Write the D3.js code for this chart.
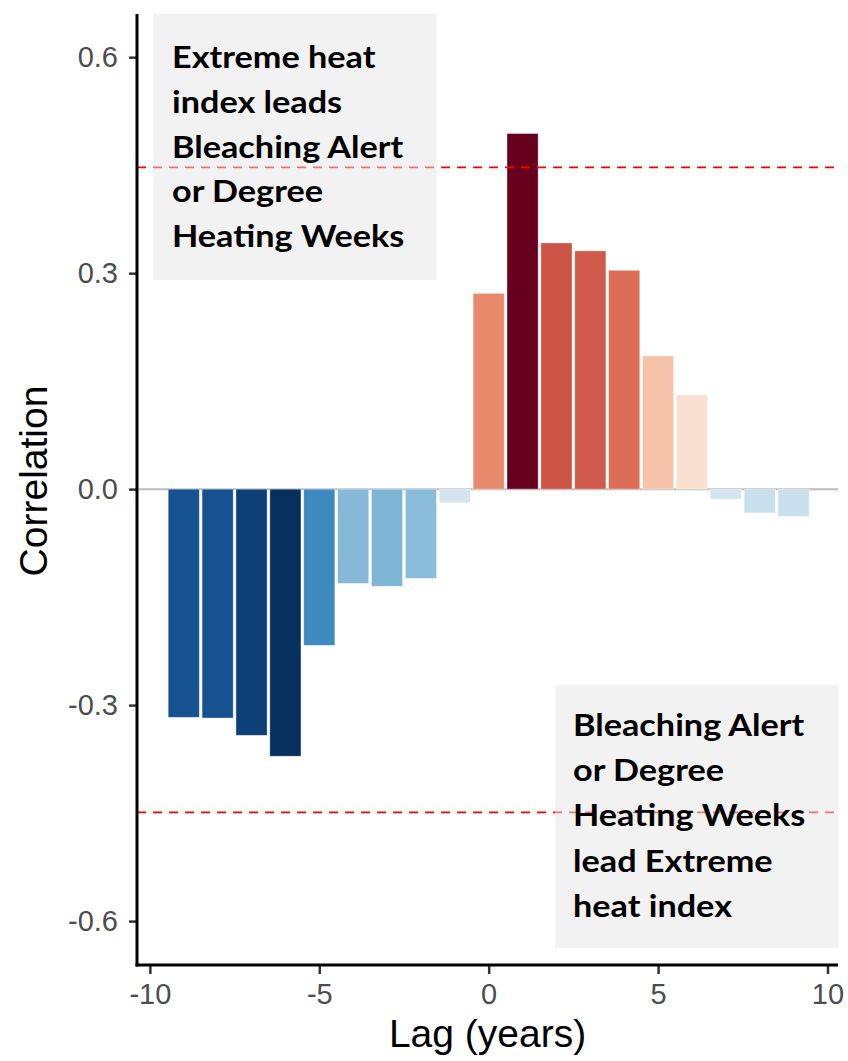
<!DOCTYPE html>
<html><head><meta charset="utf-8">
<script src="https://cdn.jsdelivr.net/npm/d3@7"></script>
<style>body{margin:0;background:#fff}svg{display:block}</style>
</head><body><svg id="c" width="848" height="1061"></svg>
<script>
const lags = [-9,-8,-7,-6,-5,-4,-3,-2,-1,0,1,2,3,4,5,6,7,8,9];
const correlation = [-0.317,-0.318,-0.342,-0.371,-0.217,-0.131,-0.135,-0.124,-0.019,0.272,0.494,0.342,0.331,0.304,0.185,0.131,-0.014,-0.033,-0.038];
const barColors = ["#175290","#175290","#0f3f77","#08305e","#3e89be","#86b9d8","#7eb6d6","#89bcda","#d1e4ef","#e8896c","#67001f","#cc5445","#d05a4a","#dc6e58","#f7c3a8","#f9e0d1","#d3e5ef","#c8dfec","#c8dfec"];
const xTicks = [-10,-5,0,5,10];
const yTicks = [-0.6,-0.3,0.0,0.3,0.6];
const thresholds = [0.447,-0.449];
const topNote = ["Extreme heat","index leads","Bleaching Alert","or Degree","Heating Weeks"];
const bottomNote = ["Bleaching Alert","or Degree","Heating Weeks","lead Extreme","heat index"];

const svg = d3.select("#c");
const L=137, R=838, T=14, B=965;
const x = d3.scaleLinear().domain([-10.38,10.31]).range([L,R]);
const y = d3.scaleLinear().domain([-0.661,0.66]).range([B,T]);
const bw = (x(1)-x(0))*0.92;
const FONT = "'Liberation Sans', Arial, sans-serif";

// zero line
svg.append("line").attr("x1",L).attr("x2",R).attr("y1",y(0)).attr("y2",y(0))
  .attr("stroke","#bdbdbd").attr("stroke-width",2);

svg.append("g").selectAll("rect").data(lags).join("rect")
  .attr("x",(d)=>x(d)-bw/2).attr("width",bw)
  .attr("y",(d,i)=>y(Math.max(0,correlation[i])))
  .attr("height",(d,i)=>Math.abs(y(correlation[i])-y(0)))
  .attr("fill",(d,i)=>barColors[i])
  .attr("stroke","#ffffff").attr("stroke-opacity",0.5).attr("stroke-width",0.8);

svg.append("g").selectAll("line").data(thresholds).join("line")
  .attr("x1",L).attr("x2",R).attr("y1",d=>y(d)).attr("y2",d=>y(d))
  .attr("stroke","#ff0000").attr("stroke-width",1.8).attr("stroke-dasharray","9,7");

// notes
function note(lines, bx, by, bwid, bh, tx, ty0, lh){
  svg.append("rect").attr("x",bx).attr("y",by).attr("width",bwid).attr("height",bh)
    .attr("fill","#e6e6e6").attr("fill-opacity",0.5);
  const t = svg.append("g").attr("transform",`translate(${tx},0) scale(1.16,1)`);
  lines.forEach((s,i)=>{
    t.append("text").attr("x",0).attr("y",ty0+i*lh).text(s)
      .attr("font-family","Lato, 'Open Sans', sans-serif").attr("font-weight",700)
      .attr("font-size",29.5).attr("fill","#000");
  });
}
note(topNote,153,14,284,266,172,68,44.8);
note(bottomNote,555,685,283,263,573,736,45.2);

// axes
const yAxis = svg.append("g").attr("transform",`translate(${L},0)`)
  .call(d3.axisLeft(y).tickValues(yTicks).tickFormat(d=>d.toFixed(1)).tickSize(8).tickPadding(11));
const xAxis = svg.append("g").attr("transform",`translate(0,${B})`)
  .call(d3.axisBottom(x).tickValues(xTicks).tickFormat(d=>String(d)).tickSize(9).tickPadding(9));
[yAxis,xAxis].forEach(g=>{
  g.select(".domain").remove();
  g.selectAll(".tick line").attr("stroke","#333").attr("stroke-width",2.5);
  g.selectAll(".tick text").attr("fill","#4d4d4d").attr("font-size",29)
    .attr("font-family",FONT);
});
xAxis.selectAll(".tick text").attr("dy","0.72em");
svg.append("line").attr("x1",L).attr("x2",L).attr("y1",T).attr("y2",B+1.5).attr("stroke","#000").attr("stroke-width",3);
svg.append("line").attr("x1",L-1.5).attr("x2",R).attr("y1",B).attr("y2",B).attr("stroke","#000").attr("stroke-width",3);

svg.append("text").attr("x",(L+R)/2).attr("y",1047).attr("text-anchor","middle")
  .attr("font-family",FONT).attr("font-size",39).text("Lag (years)");
svg.append("text").attr("transform",`translate(47,481) rotate(-90)`).attr("text-anchor","middle")
  .attr("font-family",FONT).attr("font-size",39).text("Correlation");
</script></body></html>
